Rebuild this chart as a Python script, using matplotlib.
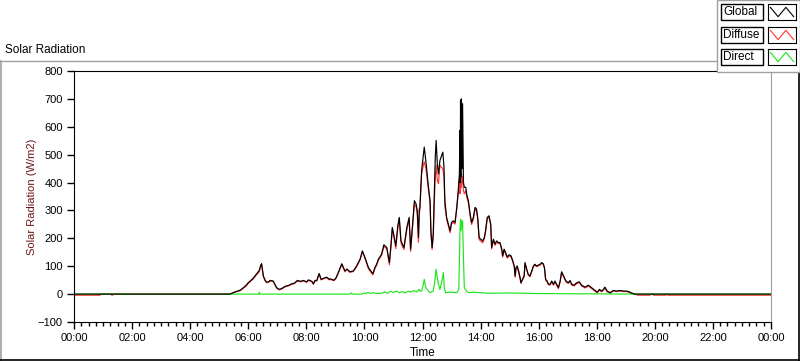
import matplotlib
matplotlib.use("Agg")
import matplotlib.pyplot as plt
from matplotlib.patches import Rectangle
from matplotlib.lines import Line2D
from matplotlib.ticker import MultipleLocator

plt.rcParams['font.family'] = ['Liberation Sans', 'DejaVu Sans']

# time of day in hours
time_h = [
    0.00, 0.90, 0.92, 1.29, 1.30, 1.33, 1.35,
    5.37, 5.50, 5.60, 5.72, 5.83, 5.92, 6.00, 6.08, 6.17, 6.29,
    6.38, 6.43, 6.46, 6.52, 6.58, 6.63, 6.70, 6.75, 6.80, 6.86,
    6.92, 6.98, 7.07, 7.15, 7.27, 7.38, 7.50, 7.60, 7.69, 7.80,
    7.90, 8.01, 8.07, 8.13, 8.20, 8.24, 8.30, 8.36, 8.44, 8.51,
    8.60, 8.70, 8.79, 8.82, 8.95, 9.02, 9.10, 9.22, 9.33, 9.40,
    9.50, 9.62, 9.73, 9.85, 9.93, 10.02, 10.14, 10.22, 10.29, 10.36,
    10.42, 10.48, 10.59, 10.67, 10.77, 10.86, 10.92, 10.96, 11.03, 11.08,
    11.15, 11.20, 11.26, 11.36, 11.46, 11.54, 11.59, 11.66, 11.72, 11.78,
    11.82, 11.86, 11.89, 11.91, 11.97, 12.03, 12.06, 12.12, 12.17, 12.20,
    12.26, 12.29, 12.33, 12.37, 12.41, 12.44, 12.47, 12.51, 12.55, 12.60,
    12.64, 12.70, 12.74, 12.77, 12.83, 12.89, 12.95, 13.00, 13.06, 13.12,
    13.18, 13.23, 13.27, 13.29, 13.30, 13.31, 13.32, 13.34, 13.36, 13.38,
    13.40, 13.41, 13.44, 13.49, 13.52, 13.58, 13.64, 13.69, 13.75, 13.81,
    13.86, 13.90, 13.95, 14.00, 14.07, 14.13, 14.17, 14.23, 14.29, 14.35,
    14.38, 14.44, 14.50, 14.55, 14.61, 14.67, 14.73, 14.76, 14.81, 14.86,
    14.92, 14.98, 15.05, 15.11, 15.16, 15.19, 15.22, 15.26, 15.31, 15.36,
    15.39, 15.44, 15.50, 15.53, 15.59, 15.64, 15.70, 15.76, 15.82, 15.87,
    15.93, 15.99, 16.05, 16.10, 16.16, 16.20, 16.24, 16.29, 16.33, 16.39,
    16.45, 16.51, 16.56, 16.62, 16.68, 16.74, 16.79, 16.83, 16.88, 16.94,
    17.02, 17.08, 17.14, 17.22, 17.31, 17.40, 17.48, 17.60, 17.71, 17.82,
    17.94, 18.02, 18.09, 18.17, 18.23, 18.28, 18.36, 18.46, 18.57, 18.69,
    18.80, 18.92, 19.03, 19.12, 19.20, 19.32,
    19.42, 19.83, 19.85, 19.94, 19.96, 20.38, 20.40, 20.42, 20.44, 24.00,
]

global_wm2 = [
    0, 0, 0, 0, 0, 0, 0,
    0, 6, 10, 14, 23, 31, 41, 48, 57, 73,
    85, 104, 109, 65, 50, 43, 44, 49, 48, 47,
    35, 23, 17, 20, 28, 31, 37, 40, 49, 46,
    49, 44, 51, 49, 45, 37, 49, 49, 74, 53,
    57, 61, 53, 55, 50, 58, 77, 109, 83, 90,
    80, 83, 101, 125, 155, 131, 95, 83, 73, 95,
    107, 125, 143, 177, 167, 113, 185, 239, 203, 173,
    245, 275, 191, 167, 239, 275, 161, 251, 335, 323,
    299, 203, 305, 311, 443, 497, 527, 473, 419, 389,
    335, 227, 167, 215, 371, 491, 551, 467, 431, 479,
    491, 509, 455, 335, 275, 251, 227, 257, 263, 257,
    311, 371, 431, 587, 400, 696, 420, 700, 450, 683,
    515, 400, 383, 383, 359, 335, 287, 257, 275, 311,
    305, 275, 203, 197, 191, 203, 227, 275, 281, 251,
    167, 197, 179, 191, 185, 185, 161, 137, 161, 149,
    133, 141, 137, 119, 101, 65, 95, 101, 83, 59,
    41, 53, 65, 113, 89, 71, 65, 83, 101, 107,
    101, 104, 107, 113, 109, 95, 53, 47, 37, 35,
    47, 35, 47, 35, 23, 47, 80, 71, 59, 47,
    41, 49, 35, 32, 41, 44, 32, 25, 32, 23,
    13, 7, 17, 11, 17, 25, 11, 5, 13, 11,
    13, 11, 11, 8, 4, 0,
    0, 0, 0, 0, 0, 0, 0, 0, 0, 0,
]

diffuse_wm2 = [
    -4, -4, 0, 0, -4, -4, 0,
    0, 5, 9, 12, 21, 28, 38, 46, 54, 70,
    80, 101, 106, 63, 48, 41, 42, 47, 46, 45,
    33, 21, 15, 18, 26, 29, 35, 38, 47, 44,
    47, 42, 49, 47, 43, 35, 47, 47, 71, 51,
    55, 59, 51, 53, 48, 56, 75, 106, 80, 88,
    78, 81, 98, 122, 152, 127, 90, 79, 69, 91,
    103, 121, 139, 170, 163, 105, 176, 232, 196, 163,
    237, 269, 182, 160, 230, 267, 153, 243, 322, 313,
    289, 186, 288, 300, 432, 462, 474, 450, 405, 378,
    330, 220, 160, 204, 336, 420, 462, 408, 396, 462,
    456, 450, 420, 315, 269, 245, 220, 251, 257, 251,
    306, 360, 410, 360, 390, 427, 380, 432, 395, 420,
    385, 370, 360, 372, 348, 328, 280, 250, 268, 304,
    299, 269, 196, 190, 184, 198, 222, 270, 276, 246,
    162, 192, 175, 187, 181, 181, 157, 133, 157, 145,
    129, 137, 133, 115, 97, 61, 91, 97, 79, 55,
    38, 50, 62, 109, 86, 68, 62, 80, 98, 104,
    98, 101, 104, 110, 106, 92, 50, 44, 34, 32,
    44, 32, 44, 32, 20, 44, 77, 68, 56, 44,
    38, 46, 32, 29, 38, 41, 29, 22, 29, 20,
    10, 4, 14, 8, 14, 22, 8, 3, 11, 9,
    11, 9, 9, 6, 2, 0,
    -4, -4, 0, 0, -4, -4, 0, 0, -4, -4,
]

direct_t = [
    0.00, 5.37, 6.37, 6.38, 6.40, 9.50, 9.55, 9.60, 9.90, 10.00,
    10.05, 10.10, 10.20, 10.30, 10.40, 10.60, 10.70, 10.80, 10.90, 11.00,
    11.10, 11.20, 11.30, 11.40, 11.50, 11.60, 11.70, 11.80, 11.89, 11.91,
    11.97, 12.03, 12.06, 12.09, 12.12, 12.20, 12.26, 12.37, 12.41, 12.47,
    12.50, 12.55, 12.60, 12.64, 12.67, 12.72, 12.75, 12.80, 12.95, 13.18,
    13.25, 13.29, 13.31, 13.33, 13.36, 13.38, 13.41, 13.44, 13.52, 13.60,
    13.75, 14.00, 14.30, 15.00, 15.50, 16.00, 19.30, 24.00,
]
direct_wm2 = [
    0, 0, 0, 6, 0, 0, 4, 0, 0, 4,
    2, 6, 3, 5, 2, 3, 8, 3, 10, 6,
    11, 5, 9, 4, 10, 7, 13, 8, 17, 11,
    11, 35, 53, 35, 23, 11, 5, 11, 35, 89,
    65, 35, 17, 35, 47, 77, 23, 5, 7, 5,
    17, 227, 269, 227, 263, 263, 131, 23, 11, 5,
    7, 5, 3, 4, 3, 2, 0, 0,
]

tick_hours = list(range(0, 25, 2))
tick_labels = ['00:00', '02:00', '04:00', '06:00', '08:00', '10:00', '12:00',
               '14:00', '16:00', '18:00', '20:00', '22:00', '00:00']
legend_names = ['Global', 'Diffuse', 'Direct']
legend_colors = ['black', '#ff3333', '#1ee61e']

W, H = 800, 361


def fx(x):
    return x / W


def fy(y):
    return 1 - y / H


fig = plt.figure(figsize=(8, 3.61), dpi=100)
ax = fig.add_axes([fx(74), fy(322), (771 - 74) / W, (322 - 71) / H])

ax.plot(time_h, diffuse_wm2, color=legend_colors[1], lw=0.85)
ax.plot(direct_t, direct_wm2, color=legend_colors[2], lw=0.85)
ax.plot(time_h, global_wm2, color=legend_colors[0], lw=0.85)

ax.set_xlim(0, 24)
ax.set_ylim(-100, 800)
ax.set_xticks(tick_hours)
ax.set_xticklabels(tick_labels)
ax.xaxis.set_minor_locator(MultipleLocator(0.25))
ax.set_yticks(range(-100, 801, 100))
ax.tick_params(direction='out', length=5, width=1, labelsize=8, pad=3)
ax.tick_params(which='minor', direction='out', length=3, width=1)
for s in ['left', 'bottom', 'top']:
    ax.spines[s].set_color('black')
ax.spines['right'].set_color('#a0a0a0')
ax.set_xlabel('Time', fontsize=8.5, labelpad=3)
ax.set_ylabel('Solar Radiation (W/m2)', fontsize=8, color='#6e1414')
ax.yaxis.set_label_coords(-0.053, 0.5)

# panel caption and frame
fig.text(fx(5), fy(50), 'Solar Radiation', fontsize=8.5, va='center', ha='left')
fig.add_artist(Line2D([0, fx(718)], [fy(61), fy(61)], color='#a0a0a0', lw=1))
fig.add_artist(Line2D([fx(0.5), fx(0.5)], [fy(61), 0], color='#a0a0a0', lw=1.2))
fig.add_artist(Line2D([0, 1], [fy(360), fy(360)], color='black', lw=1.2))
fig.add_artist(Line2D([fx(799), fx(799)], [fy(72), 0], color='black', lw=1.2))

# legend block at top right
fig.add_artist(Rectangle((fx(717), fy(72)), 83 / W, 72 / H, transform=fig.transFigure,
                         facecolor='white', edgecolor='#a0a0a0', lw=1, zorder=5))
tops = [4, 27, 49]
for name, col, top in zip(legend_names, legend_colors, tops):
    fig.add_artist(Rectangle((fx(721), fy(top + 16)), 42 / W, 16 / H, transform=fig.transFigure,
                             facecolor='white', edgecolor='black', lw=1, zorder=6))
    fig.text(fx(723), fy(top + 8), name, fontsize=8.5, va='center', ha='left', zorder=7)
    iax = fig.add_axes([fx(768), fy(top + 16), 28 / W, 16 / H], zorder=8)
    iax.plot([0, 1, 2, 3], [0.85, 0.15, 0.85, 0.15], color=col, lw=0.8)
    iax.set_xlim(-0.3, 3.3)
    iax.set_ylim(-0.1, 1.1)
    iax.set_xticks([])
    iax.set_yticks([])
    for s in iax.spines.values():
        s.set_color('black')

fig.savefig('out.png', dpi=100)
